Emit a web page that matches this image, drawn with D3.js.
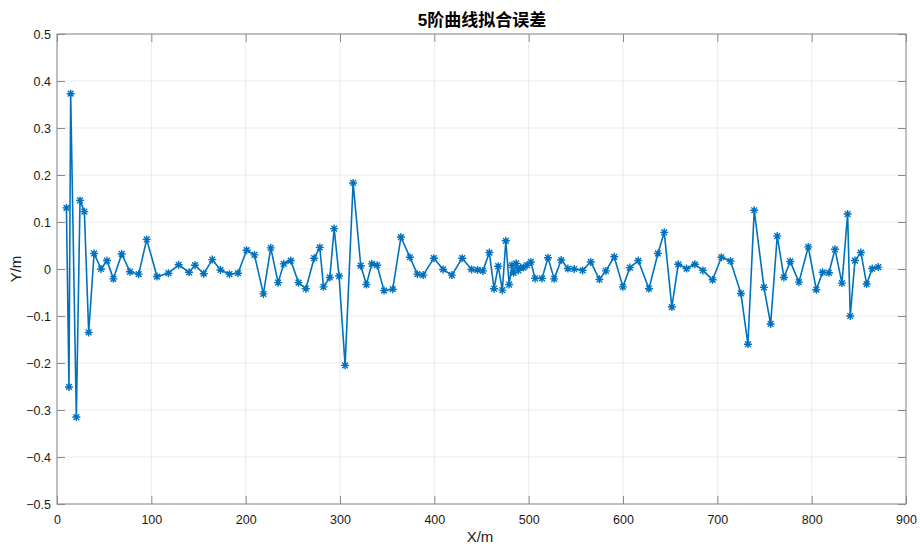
<!DOCTYPE HTML>
<html>

<head>
  <meta charset="utf-8">
  <title>5阶曲线拟合误差</title>
  <script src="https://d3js.org/d3.v7.min.js"></script>
  <style>
    body { margin: 0; background: #fff; }
    text { font-family: Arial, "Liberation Sans", "Noto Sans CJK SC", sans-serif; }
  </style>
</head>

<body>

  <script>
    // 测点位置 (m)
    const xs = [
      10.0, 12.7, 14.5, 20.5, 24.4, 29.0, 33.6, 39.3, 46.7, 53.0,
      59.8, 68.6, 77.4, 86.6, 95.1, 106.0, 118.1, 129.0, 140.0, 146.3,
      155.6, 164.6, 173.3, 182.8, 191.9, 201.0, 209.3, 218.8, 226.6, 234.4,
      240.4, 247.8, 256.0, 263.8, 272.6, 278.6, 282.5, 289.2, 293.8, 299.0,
      305.4, 313.9, 322.0, 328.0, 333.7, 339.3, 346.7, 355.9, 364.6, 374.1,
      382.0, 388.2, 399.5, 409.3, 418.6, 429.5, 439.5, 445.8, 451.5, 458.3,
      463.3, 467.7, 472.1, 475.8, 479.3, 482.3, 484.0, 486.8, 488.9, 491.4,
      494.5, 498.3, 502.3, 506.8, 514.2, 520.5, 527.0, 534.5, 541.6, 548.3,
      557.2, 565.8, 575.0, 581.9, 590.7, 599.9, 607.3, 616.2, 627.5, 637.0,
      643.7, 651.8, 658.5, 667.4, 676.2, 684.7, 695.0, 704.3, 714.0, 725.0,
      732.4, 739.1, 749.4, 756.5, 763.5, 770.6, 777.3, 786.5, 796.4, 804.9,
      811.6, 818.3, 824.7, 832.1, 838.1, 840.9, 845.9, 852.2, 858.3, 864.2,
      870.6
    ];

    // 拟合误差 (m)
    const errs = [
      0.130, -0.251, 0.373, -0.315, 0.146, 0.122, -0.135, 0.033, 0.000, 0.018,
      -0.021, 0.032, -0.006, -0.011, 0.063, -0.016, -0.009, 0.009, -0.007, 0.008,
      -0.010, 0.020, -0.002, -0.011, -0.009, 0.040, 0.030, -0.053, 0.045, -0.029,
      0.011, 0.018, -0.029, -0.042, 0.023, 0.046, -0.038, -0.018, 0.086, -0.015,
      -0.205, 0.183, 0.007, -0.033, 0.011, 0.008, -0.046, -0.043, 0.068, 0.025,
      -0.011, -0.013, 0.023, -0.001, -0.013, 0.023, -0.001, -0.002, -0.004, 0.035,
      -0.042, 0.006, -0.045, 0.060, -0.033, 0.008, -0.008, 0.012, -0.003, 0.003,
      0.003, 0.008, 0.015, -0.020, -0.020, 0.024, -0.021, 0.019, 0.001, 0.000,
      -0.003, 0.015, -0.022, -0.004, 0.026, -0.038, 0.003, 0.018, -0.042, 0.033,
      0.078, -0.081, 0.010, 0.001, 0.010, -0.003, -0.023, 0.025, 0.017, -0.052,
      -0.160, 0.125, -0.039, -0.117, 0.070, -0.018, 0.016, -0.028, 0.047, -0.044,
      -0.007, -0.008, 0.042, -0.030, 0.117, -0.100, 0.018, 0.035, -0.032, 0.001,
      0.004
    ];

    const xTicks = [0, 100, 200, 300, 400, 500, 600, 700, 800, 900];
    const yTicks = [-0.5, -0.4, -0.3, -0.2, -0.1, 0, 0.1, 0.2, 0.3, 0.4, 0.5];

    const W = 920, H = 547;
    const pL = 57, pR = 906, pT = 34, pB = 504;
    const blue = '#0072bd';

    const svg = d3.select('body').append('svg')
      .attr('width', W)
      .attr('height', H);

    const x = d3.scaleLinear().domain([0, 900]).range([pL, pR]);
    const y = d3.scaleLinear().domain([-0.5, 0.5]).range([pB, pT]);

    // 网格
    svg.append('g').selectAll('line')
      .data(xTicks)
      .join('line')
      .attr('x1', d => x(d)).attr('x2', d => x(d))
      .attr('y1', pT).attr('y2', pB)
      .attr('stroke', '#ebebeb').attr('stroke-width', 1);

    svg.append('g').selectAll('line')
      .data(yTicks)
      .join('line')
      .attr('x1', pL).attr('x2', pR)
      .attr('y1', d => y(d)).attr('y2', d => y(d))
      .attr('stroke', '#ebebeb').attr('stroke-width', 1);

    // 坐标轴 (刻度朝内)
    const tickLen = 8;
    const axisColor = '#8a8a8a';

    svg.append('g')
      .attr('transform', `translate(0,${pB})`)
      .call(d3.axisBottom(x).tickValues(xTicks).tickSize(-tickLen).tickPadding(11).tickFormat(d3.format('d')))
      .call(g => g.select('.domain').remove());

    svg.append('g')
      .attr('transform', `translate(0,${pT})`)
      .call(d3.axisTop(x).tickValues(xTicks).tickSize(-tickLen).tickFormat(''))
      .call(g => g.select('.domain').remove());

    svg.append('g')
      .attr('transform', `translate(${pL},0)`)
      .call(d3.axisLeft(y).tickValues(yTicks).tickSize(-tickLen).tickPadding(6).tickFormat(d => d === 0 ? '0' : d3.format('.1f')(d)))
      .call(g => g.select('.domain').remove());

    svg.append('g')
      .attr('transform', `translate(${pR},0)`)
      .call(d3.axisRight(y).tickValues(yTicks).tickSize(-tickLen).tickFormat(''))
      .call(g => g.select('.domain').remove());

    svg.selectAll('.tick line').attr('stroke', axisColor);
    svg.selectAll('.tick text')
      .attr('fill', '#1a1a1a')
      .style('font-size', '12.5px');

    svg.append('rect')
      .attr('x', pL).attr('y', pT)
      .attr('width', pR - pL).attr('height', pB - pT)
      .attr('fill', 'none')
      .attr('stroke', axisColor)
      .attr('stroke-width', 1);

    // 误差曲线
    const pts = xs.map((d, i) => [d, errs[i]]);

    svg.append('path')
      .datum(pts)
      .attr('fill', 'none')
      .attr('stroke', blue)
      .attr('stroke-width', 1.6)
      .attr('stroke-linejoin', 'round')
      .attr('d', d3.line().x(d => x(d[0])).y(d => y(d[1])));

    // '*' 标记
    const r = 4;
    const star = `M${-r},0L${r},0M0,${-r}L0,${r}` +
      `M${-r * 0.72},${-r * 0.72}L${r * 0.72},${r * 0.72}M${-r * 0.72},${r * 0.72}L${r * 0.72},${-r * 0.72}`;

    svg.append('g').selectAll('path')
      .data(pts)
      .join('path')
      .attr('transform', d => `translate(${x(d[0])},${y(d[1])})`)
      .attr('d', star)
      .attr('fill', 'none')
      .attr('stroke', blue)
      .attr('stroke-width', 1.4);

    // 标题与轴标签
    svg.append('text')
      .attr('x', 482)
      .attr('y', 26)
      .attr('text-anchor', 'middle')
      .attr('fill', '#000')
      .style('font-size', '17px')
      .style('font-weight', 'bold')
      .text('5阶曲线拟合误差');

    svg.append('text')
      .attr('x', 480)
      .attr('y', 542)
      .attr('text-anchor', 'middle')
      .attr('fill', '#1a1a1a')
      .style('font-size', '15px')
      .text('X/m');

    svg.append('text')
      .attr('transform', `translate(21,${(pT + pB) / 2}) rotate(-90)`)
      .attr('text-anchor', 'middle')
      .attr('fill', '#1a1a1a')
      .style('font-size', '15px')
      .text('Y/m');
  </script>

</body>

</html>
